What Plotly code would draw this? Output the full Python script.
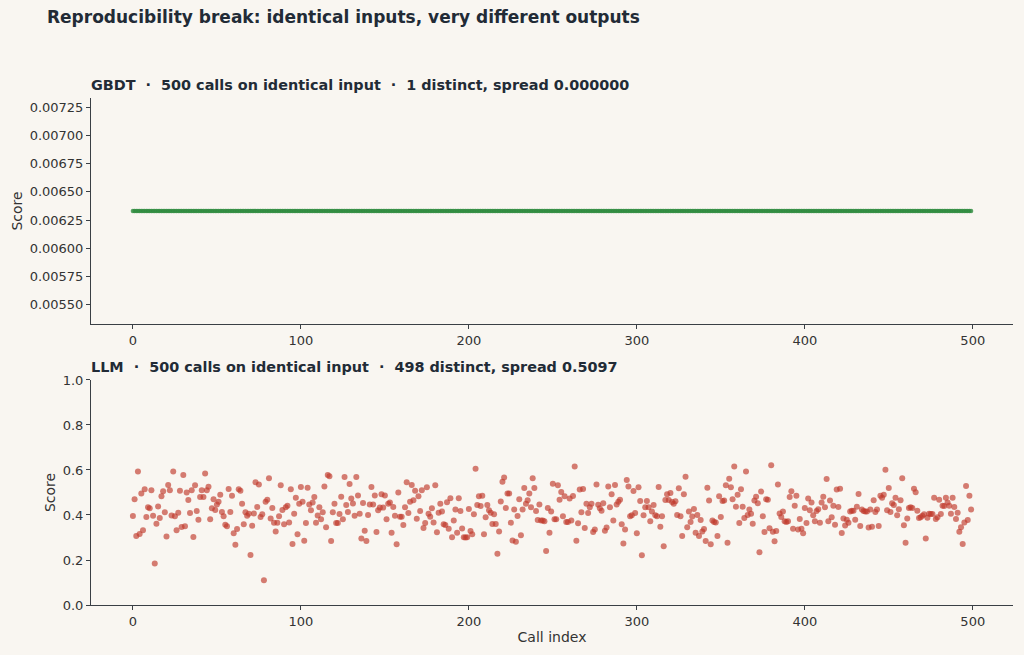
import plotly.graph_objects as go
from plotly.subplots import make_subplots

# ---- data ----
n_calls = 500
call_index = list(range(n_calls))

gbdt_value = 0.006331
gbdt_scores = [gbdt_value] * n_calls  # one distinct value, spread 0

llm_scores = [
    # 0 - 61
    0.396, 0.47, 0.307, 0.593, 0.316, 0.496, 0.332, 0.514, 0.391, 0.434,
    0.43, 0.51, 0.397, 0.184, 0.361, 0.438, 0.387, 0.483, 0.505, 0.412,
    0.304, 0.533, 0.51, 0.398, 0.593, 0.394, 0.332, 0.41, 0.508, 0.347,
    0.578, 0.35, 0.5, 0.467, 0.409, 0.51, 0.302, 0.532, 0.418, 0.379,
    0.48, 0.51, 0.48, 0.584, 0.51, 0.526, 0.381, 0.43, 0.47, 0.422,
    0.447, 0.459, 0.49, 0.413, 0.394, 0.357, 0.35, 0.516, 0.413, 0.486,
    0.319, 0.268,
    # 62 - 122
    0.338, 0.514, 0.508, 0.45, 0.359, 0.412, 0.397, 0.405, 0.222, 0.352,
    0.407, 0.545, 0.436, 0.535, 0.391, 0.403, 0.11, 0.459, 0.468, 0.563,
    0.384, 0.431, 0.366, 0.327, 0.366, 0.394, 0.532, 0.422, 0.359, 0.434,
    0.441, 0.367, 0.514, 0.271, 0.406, 0.477, 0.314, 0.45, 0.524, 0.459,
    0.286, 0.364, 0.521, 0.447, 0.421, 0.455, 0.48, 0.366, 0.398, 0.434,
    0.381, 0.412, 0.527, 0.345, 0.578, 0.572, 0.284, 0.412, 0.45, 0.364,
    0.364,
    # 123 - 185
    0.404, 0.481, 0.381, 0.569, 0.444, 0.413, 0.538, 0.473, 0.451, 0.397,
    0.569, 0.487, 0.405, 0.296, 0.453, 0.33, 0.284, 0.4, 0.447, 0.524,
    0.447, 0.487, 0.324, 0.421, 0.433, 0.492, 0.433, 0.487, 0.381, 0.45,
    0.456, 0.321, 0.436, 0.397, 0.27, 0.5, 0.392, 0.392, 0.356, 0.434,
    0.545, 0.409, 0.459, 0.533, 0.465, 0.508, 0.383, 0.483, 0.418, 0.51,
    0.342, 0.364, 0.523, 0.405, 0.392, 0.43, 0.367, 0.532, 0.323, 0.41,
    0.45, 0.415, 0.359,
    # 186 - 248
    0.356, 0.457, 0.339, 0.474, 0.301, 0.376, 0.424, 0.321, 0.474, 0.418,
    0.34, 0.301, 0.3, 0.301, 0.427, 0.329, 0.314, 0.403, 0.606, 0.444,
    0.483, 0.44, 0.486, 0.314, 0.39, 0.444, 0.421, 0.41, 0.36, 0.403,
    0.36, 0.228, 0.327, 0.46, 0.548, 0.567, 0.431, 0.496, 0.496, 0.366,
    0.287, 0.424, 0.281, 0.395, 0.47, 0.31, 0.424, 0.52, 0.45, 0.465,
    0.496, 0.434, 0.563, 0.52, 0.418, 0.378, 0.447, 0.375, 0.375, 0.372,
    0.24, 0.431, 0.321,
    # 249 - 311
    0.415, 0.539, 0.381, 0.381, 0.532, 0.468, 0.502, 0.394, 0.483, 0.369,
    0.369, 0.473, 0.375, 0.484, 0.615, 0.286, 0.363, 0.513, 0.412, 0.516,
    0.342, 0.45, 0.409, 0.434, 0.45, 0.324, 0.336, 0.535, 0.446, 0.43,
    0.419, 0.452, 0.33, 0.344, 0.527, 0.434, 0.492, 0.375, 0.533, 0.447,
    0.459, 0.468, 0.359, 0.273, 0.336, 0.556, 0.527, 0.394, 0.399, 0.507,
    0.409, 0.319, 0.523, 0.462, 0.221, 0.399, 0.434, 0.462, 0.434, 0.372,
    0.415, 0.444, 0.399,
    # 312 - 373
    0.394, 0.524, 0.348, 0.394, 0.261, 0.467, 0.492, 0.467, 0.498, 0.458,
    0.45, 0.461, 0.4, 0.519, 0.394, 0.307, 0.492, 0.57, 0.345, 0.415,
    0.369, 0.393, 0.427, 0.321, 0.4, 0.307, 0.378, 0.327, 0.338, 0.284,
    0.521, 0.464, 0.27, 0.376, 0.369, 0.367, 0.307, 0.483, 0.391, 0.462,
    0.464, 0.532, 0.277, 0.561, 0.523, 0.47, 0.615, 0.437, 0.49, 0.364,
    0.514, 0.437, 0.387, 0.593, 0.4, 0.424, 0.406, 0.361, 0.464, 0.481,
    0.452, 0.234,
    # 374 - 434
    0.504, 0.394, 0.324, 0.47, 0.468, 0.341, 0.621, 0.326, 0.283, 0.329,
    0.536, 0.407, 0.391, 0.416, 0.372, 0.369, 0.372, 0.48, 0.505, 0.339,
    0.441, 0.486, 0.336, 0.382, 0.339, 0.319, 0.431, 0.364, 0.473, 0.421,
    0.455, 0.399, 0.372, 0.418, 0.425, 0.366, 0.455, 0.481, 0.434, 0.56,
    0.372, 0.464, 0.39, 0.441, 0.357, 0.513, 0.436, 0.517, 0.32, 0.384,
    0.353, 0.379, 0.366, 0.415, 0.419, 0.419, 0.379, 0.437, 0.493, 0.351,
    0.424,
    # 435 - 499
    0.418, 0.416, 0.415, 0.344, 0.424, 0.348, 0.465, 0.413, 0.424, 0.351,
    0.486, 0.477, 0.49, 0.601, 0.421, 0.52, 0.413, 0.452, 0.444, 0.477,
    0.399, 0.425, 0.465, 0.563, 0.354, 0.277, 0.384, 0.431, 0.434, 0.431,
    0.517, 0.501, 0.419, 0.387, 0.39, 0.397, 0.403, 0.296, 0.388, 0.406,
    0.404, 0.404, 0.477, 0.382, 0.39, 0.468, 0.404, 0.441, 0.44, 0.477,
    0.455, 0.441, 0.406, 0.477, 0.436, 0.382, 0.41, 0.326, 0.345, 0.271,
    0.367, 0.529, 0.378, 0.486, 0.424,
]

gbdt_title = "GBDT  ·  500 calls on identical input  ·  1 distinct, spread 0.000000"
llm_title = "LLM  ·  500 calls on identical input  ·  498 distinct, spread 0.5097"

bg = '#f9f6f1'
ink = '#222b36'
axis_col = '#3a3f45'
font_name = 'DejaVu Sans'

fig = make_subplots(rows=2, cols=1, vertical_spacing=0.11)

fig.add_trace(go.Scatter(
    x=call_index, y=gbdt_scores, mode='markers',
    marker=dict(color='#2e8b3e', size=4.5, opacity=0.8, line=dict(width=0)),
    showlegend=False,
), row=1, col=1)

fig.add_trace(go.Scatter(
    x=call_index, y=llm_scores, mode='markers',
    marker=dict(color='#c0392b', size=6, opacity=0.65, line=dict(width=0)),
    showlegend=False,
), row=2, col=1)

axis_style = dict(
    showgrid=False,
    zeroline=False,
    showline=True,
    linecolor=axis_col,
    linewidth=1,
    ticks='outside',
    ticklen=4,
    tickcolor=axis_col,
    tickfont=dict(family=font_name, size=13, color='#333333'),
    mirror=False,
)

fig.update_xaxes(axis_style, range=[-24.95, 523.95], dtick=100, tick0=0)
fig.update_xaxes(title=dict(text='Call index', font=dict(family=font_name, size=14, color='#333333'), standoff=4), row=2, col=1)

fig.update_yaxes(axis_style)
fig.update_yaxes(range=[gbdt_value - 0.001, gbdt_value + 0.001], dtick=0.00025, tick0=0.0055,
                 tickformat='.5f', row=1, col=1)
fig.update_yaxes(range=[0, 1], dtick=0.2, tickformat='.1f', row=2, col=1)
fig.update_yaxes(title=dict(text='Score', font=dict(family=font_name, size=14, color='#333333'), standoff=3))

fig.update_layout(
    width=1024,
    height=655,
    paper_bgcolor=bg,
    plot_bgcolor=bg,
    margin=dict(l=91, r=11, t=98, b=50),
    font=dict(family=font_name, color=ink),
    title=dict(
        text='<b>Reproducibility break: identical inputs, very different outputs</b>',
        x=47 / 1024, xanchor='left', y=1 - 17 / 655, yanchor='middle',
        font=dict(family=font_name, size=17, color=ink),
    ),
)

fig.update_layout(
    yaxis=dict(domain=[0.5542, 1.0]),
    yaxis2=dict(domain=[0.0, 0.4438]),
)

fig.add_annotation(text='<b>' + gbdt_title + '</b>', xref='paper', yref='paper',
                   x=0, y=1.0, xanchor='left', yanchor='bottom', yshift=3, xshift=-2,
                   showarrow=False, font=dict(family=font_name, size=14.4, color=ink))
fig.add_annotation(text='<b>' + llm_title + '</b>', xref='paper', yref='paper',
                   x=0, y=0.4438, xanchor='left', yanchor='bottom', yshift=3, xshift=-2,
                   showarrow=False, font=dict(family=font_name, size=14.4, color=ink))

# drop the default 8px page margin so the figure sits at the window corner
fig.write_html("out.html", config={'displayModeBar': False},
               post_script="document.body.style.margin='0px';")
